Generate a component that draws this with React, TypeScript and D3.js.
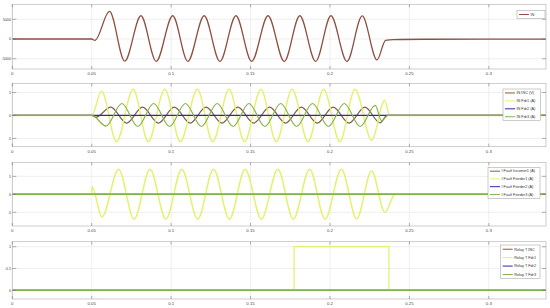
import React from "react";
import * as d3 from "d3";

type Pt = [number, number];

const TIME_TICKS = [0, 0.05, 0.1, 0.15, 0.2, 0.25, 0.3];
const TIME_LABELS = ["0", "0.05", "0.1", "0.15", "0.2", "0.25", "0.3"];
const T_END = 0.336;

// Panel 1: IN (V)
const P1_TICKS = [-5000, 0, 5000];
const P1_LABELS = ["-5000", "0", "5000"];
const P1_LEGEND = ["IN"];
const IN_V: Pt[] = [
  [0, 0], [0.05, 0], [0.052, -350], [0.0612, 7000], [0.0708, -5600], [0.081, 5900],
  [0.0906, -5650], [0.101, 5900], [0.1105, -5650], [0.1208, 5900], [0.1307, -5650],
  [0.1408, 5900], [0.1507, -5650], [0.161, 5900], [0.1712, -5650], [0.181, 5900],
  [0.191, -5650], [0.2006, 5900], [0.2107, -5650], [0.2203, 5850], [0.2296, -5300],
  [0.235, -350], [0.24, -150], [0.26, -60], [T_END, -20],
];

// Panel 2: IN currents/voltage
const P2_TICKS = [-5, 0, 5];
const P2_LABELS = ["-5", "0", "5"];
const P2_LEGEND = ["IN INC (V)", "IN Fdr1 (A)", "IN Fdr2 (A)", "IN Fdr3 (A)"];
const IN_INC: Pt[] = [
  [0, 0], [0.05, 0], [0.0525, -0.4], [0.062, 1.8], [0.072, -1.65], [0.082, 1.8],
  [0.092, -1.65], [0.102, 1.8], [0.112, -1.65], [0.122, 1.8], [0.132, -1.65],
  [0.142, 1.8], [0.152, -1.65], [0.162, 1.8], [0.172, -1.65], [0.182, 1.8],
  [0.192, -1.65], [0.202, 1.8], [0.212, -1.65], [0.222, 1.8], [0.2315, -1.6],
  [0.236, 0], [T_END, 0],
];
const IN_FDR1: Pt[] = [
  [0, 0], [0.05, 0], [0.0562, 5.3], [0.0656, -5.7], [0.0761, 5.7], [0.0856, -5.7],
  [0.096, 5.7], [0.1058, -5.7], [0.1165, 5.7], [0.1262, -5.7], [0.1365, 5.7],
  [0.1462, -5.7], [0.1565, 5.7], [0.1662, -5.7], [0.1762, 5.7], [0.1862, -5.7],
  [0.196, 5.7], [0.2062, -5.7], [0.2158, 5.7], [0.2262, -5.4], [0.2345, 3.3],
  [0.2375, 0], [T_END, 0],
];
const IN_FDR2: Pt[] = [[0, 0], [T_END, 0]];
const IN_FDR3: Pt[] = [
  [0, 0], [0.05, 0], [0.059, -2.3], [0.069, 2.6], [0.079, -2.4], [0.089, 2.6],
  [0.099, -2.4], [0.109, 2.6], [0.119, -2.4], [0.129, 2.6], [0.139, -2.4],
  [0.149, 2.6], [0.159, -2.4], [0.169, 2.6], [0.179, -2.4], [0.189, 2.6],
  [0.199, -2.4], [0.209, 2.6], [0.219, -2.4], [0.2285, 2.2], [0.2325, -1.2],
  [0.2365, 0], [T_END, 0],
];

// Panel 3: fault currents
const P3_TICKS = [-5, 0, 5];
const P3_LABELS = ["-5", "0", "5"];
const P3_LEGEND = ["I Fault Incomer1 (A)", "I Fault Feeder1 (A)", "I Fault Feeder2 (A)", "I Fault Feeder3 (A)"];
const IF_INC: Pt[] = [[0, 0], [T_END, 0]];
const IF_FDR1: Pt[] = [
  [0, 0], [0.05, 0], [0.0502, 2.1], [0.0564, -6.3], [0.0669, 7.0], [0.0767, -6.9],
  [0.0867, 7.0], [0.0967, -6.9], [0.1067, 7.0], [0.1167, -6.9], [0.1267, 7.0],
  [0.1367, -6.9], [0.1466, 7.0], [0.1568, -6.9], [0.1672, 7.0], [0.1769, -6.9],
  [0.1872, 7.0], [0.1969, -6.9], [0.2072, 7.0], [0.2168, -6.8], [0.2262, 6.5],
  [0.2346, -5.0], [0.241, 0], [T_END, 0],
];
const IF_FDR2: Pt[] = [[0, 0], [T_END, 0]];
const IF_FDR3: Pt[] = [[0, 0], [T_END, 0]];

// Panel 4: relay trips
const P4_TICKS = [0, 0.5, 1];
const P4_LABELS = ["0", "0.5", "1"];
const P4_LEGEND = ["Relay T INC", "Relay T Fdr1", "Relay T Fdr2", "Relay T Fdr3"];
const RELAY_INC: Pt[] = [[0, 0], [T_END, 0]];
const RELAY_FDR1: Pt[] = [[0, 0], [0.1774, 1], [0.2371, 0], [T_END, 0]];
const RELAY_FDR2: Pt[] = [[0, 0], [T_END, 0]];
const RELAY_FDR3: Pt[] = [[0, 0], [T_END, 0]];

const C_BROWN = "#80604a";
const C_RED = "#8f4f42";
const C_YELLOW = "#e6f070";
const C_BLUE = "#2b2ba8";
const C_GREEN = "#86b24c";

const FONT = "Liberation Sans, Arial, sans-serif";

const LEFT = 12.3;
const RIGHT = 546;

const x = d3.scaleLinear().domain([0, T_END]).range([LEFT, RIGHT]);

type Series = { data: Pt[]; color: string; width: number; step?: boolean };

function Panel(props: {
  top: number; bottom: number; domain: [number, number];
  ticks: number[]; labels: string[]; series: Series[];
  legend: string[]; legendColors: string[]; legendBox: [number, number, number, number];
}) {
  const { top, bottom, domain, ticks, labels, series, legend, legendColors, legendBox } = props;
  const y = d3.scaleLinear().domain(domain).range([bottom, top]);
  const [lx0, ly0, lx1, ly1] = legendBox;
  const rowH = (ly1 - ly0) / legend.length;
  const clipId = `clip-${Math.round(top)}`;
  return (
    <g>
      <rect x={LEFT} y={top} width={RIGHT - LEFT} height={bottom - top} fill="#fff" />
      <clipPath id={clipId}>
        <rect x={LEFT} y={top} width={RIGHT - LEFT} height={bottom - top} />
      </clipPath>
      {TIME_TICKS.map((t) => (
        <line key={"gx" + t} x1={x(t)} x2={x(t)} y1={top} y2={bottom} stroke="#e4e4e4" strokeWidth={0.6} />
      ))}
      {ticks.map((v) => (
        <line key={"gy" + v} x1={LEFT} x2={RIGHT} y1={y(v)} y2={y(v)} stroke="#e4e4e4" strokeWidth={0.6} />
      ))}
      <g clipPath={`url(#${clipId})`}>
        {series.map((s, i) => {
          const gen = d3
            .line<Pt>()
            .x((d) => x(d[0]))
            .y((d) => y(d[1]))
            .curve(s.step ? d3.curveStepAfter : d3.curveMonotoneX);
          return <path key={i} d={gen(s.data) || ""} fill="none" stroke={s.color} strokeWidth={s.width} />;
        })}
      </g>
      <rect x={LEFT} y={top} width={RIGHT - LEFT} height={bottom - top} fill="none" stroke="#b8b8b8" strokeWidth={0.7} />
      {TIME_TICKS.map((t) => (
        <g key={"tx" + t}>
          <line x1={x(t)} x2={x(t)} y1={bottom} y2={bottom - 3} stroke="#666" strokeWidth={0.5} />
          <line x1={x(t)} x2={x(t)} y1={top} y2={top + 3} stroke="#666" strokeWidth={0.5} />
        </g>
      ))}
      {ticks.map((v) => (
        <g key={"ty" + v}>
          <line x1={LEFT} x2={LEFT + 4} y1={y(v)} y2={y(v)} stroke="#666" strokeWidth={0.5} />
          <line x1={RIGHT} x2={RIGHT - 4} y1={y(v)} y2={y(v)} stroke="#666" strokeWidth={0.5} />
        </g>
      ))}
      {TIME_TICKS.map((t, i) => (
        <text key={"lx" + t} x={x(t)} y={bottom + 6} fontSize={4.3} textAnchor="middle" fill="#444" fontFamily={FONT}>
          {TIME_LABELS[i]}
        </text>
      ))}
      {ticks.map((v, i) => (
        <text key={"ly" + v} x={LEFT - 1.2} y={y(v) + 1.4} fontSize={3.8} textAnchor="end" fill="#444" fontFamily={FONT}>
          {labels[i]}
        </text>
      ))}
      <rect x={lx0} y={ly0} width={lx1 - lx0} height={ly1 - ly0} fill="#fff" stroke="#999" strokeWidth={0.5} />
      {legend.map((name, i) => {
        const cy = ly0 + rowH * (i + 0.5);
        return (
          <g key={name}>
            <line x1={lx0 + 2} x2={lx0 + 12} y1={cy} y2={cy} stroke={legendColors[i]} strokeWidth={1} />
            <text x={lx0 + 13.5} y={cy + 1.3} fontSize={3.8} fill="#333" fontFamily={FONT}>
              {name}
            </text>
          </g>
        );
      })}
    </g>
  );
}

export default function App() {
  const four = [C_BROWN, C_YELLOW, C_BLUE, C_GREEN];
  return (
    <svg width={550} height={308} style={{ position: "absolute", left: 0, top: 0, background: "#fff" }}>
      <rect x={0} y={0} width={550} height={308} fill="#fff" />
      <Panel
        top={4.3} bottom={69} domain={[-7600, 8800]} ticks={P1_TICKS} labels={P1_LABELS}
        series={[{ data: IN_V, color: C_RED, width: 1.3 }]}
        legend={P1_LEGEND} legendColors={[C_RED]} legendBox={[517, 10.7, 545, 18.3]}
      />
      <Panel
        top={83.3} bottom={146.7} domain={[-6.8, 7]} ticks={P2_TICKS} labels={P2_LABELS}
        series={[
          { data: IN_INC, color: C_BROWN, width: 1.2 },
          { data: IN_FDR1, color: C_YELLOW, width: 1.4 },
          { data: IN_FDR2, color: C_BLUE, width: 1.2 },
          { data: IN_FDR3, color: C_GREEN, width: 1.2 },
        ]}
        legend={P2_LEGEND} legendColors={four} legendBox={[503, 89, 540.7, 120.7]}
      />
      <Panel
        top={162.3} bottom={226} domain={[-8.8, 8.9]} ticks={P3_TICKS} labels={P3_LABELS}
        series={[
          { data: IF_INC, color: C_BROWN, width: 1.2 },
          { data: IF_FDR1, color: C_YELLOW, width: 1.5 },
          { data: IF_FDR2, color: C_BLUE, width: 1.2 },
          { data: IF_FDR3, color: C_GREEN, width: 1.2 },
        ]}
        legend={P3_LEGEND} legendColors={four} legendBox={[488, 167.3, 540, 198.3]}
      />
      <Panel
        top={241.7} bottom={299} domain={[-0.2, 1.115]} ticks={P4_TICKS} labels={P4_LABELS}
        series={[
          { data: RELAY_INC, color: C_BROWN, width: 1.2, step: true },
          { data: RELAY_FDR1, color: C_YELLOW, width: 1.3, step: true },
          { data: RELAY_FDR2, color: C_BLUE, width: 1.2, step: true },
          { data: RELAY_FDR3, color: C_GREEN, width: 1.2, step: true },
        ]}
        legend={P4_LEGEND} legendColors={four} legendBox={[500.7, 245, 540, 278.7]}
      />
    </svg>
  );
}
